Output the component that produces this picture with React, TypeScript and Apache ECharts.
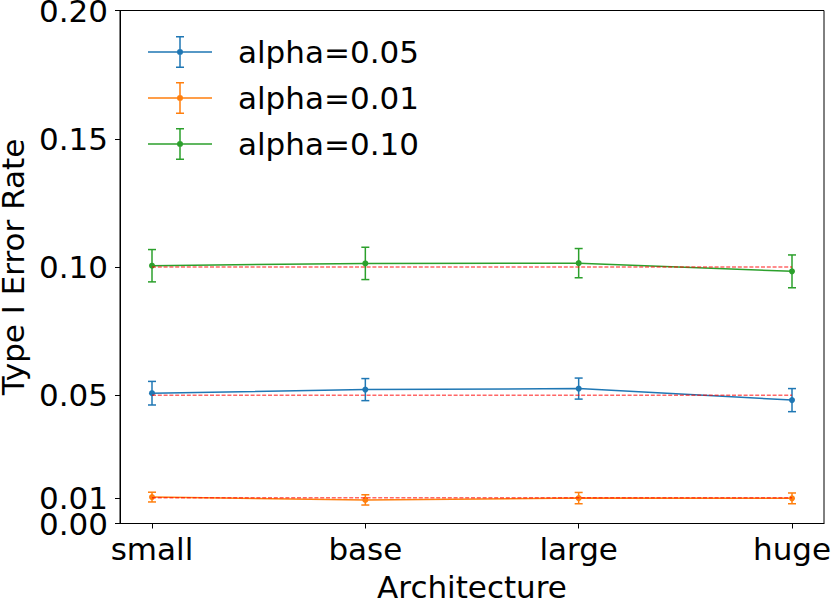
import React, { useEffect, useRef } from "react";
import * as echarts from "echarts";

const categories = ["small", "base", "large", "huge"];
const seriesNames = ["alpha=0.05", "alpha=0.01", "alpha=0.10"];
const alphaLevels = [0.05, 0.01, 0.1];
const rate005 = [0.0508, 0.0522, 0.0526, 0.0481];
const err005 = [0.0046, 0.0043, 0.0041, 0.0045];
const rate001 = [0.0103, 0.0092, 0.0099, 0.0098];
const err001 = [0.0019, 0.002, 0.0022, 0.0021];
const rate010 = [0.1005, 0.1014, 0.1015, 0.0983];
const err010 = [0.0063, 0.0063, 0.0057, 0.0064];
const yTicks = [0, 0.01, 0.05, 0.1, 0.15, 0.2];
const yMainLabels = [0, 0.05, 0.1, 0.15, 0.2];
const ySecondLabels = [0.01];
const xTicks = [0, 1, 2, 3];

const colors = ["#1f77b4", "#ff7f0e", "#2ca02c"];
const FONT = "DejaVu Sans";
const FS = 31;

const legendIcon =
  "path://M0 15.25H64V16.75H0Z M31.25 0H32.75V32H31.25Z M28 0H36V1.5H28Z M28 30.5H36V32H28Z M29 16A3 3 0 1 1 35 16A3 3 0 1 1 29 16Z";

export default function App() {
  const ref = useRef<HTMLDivElement>(null);
  useEffect(() => {
    if (!ref.current) return;
    const chart = echarts.init(ref.current, null, { renderer: "svg" });
    const rates = [rate005, rate001, rate010];
    const errs = [err005, err001, err010];

    const lineSeries: any[] = rates.map((r, i) => ({
      type: "line",
      name: seriesNames[i],
      data: r.map((v, j) => [xTicks[j], v]),
      symbol: "circle",
      symbolSize: 6,
      color: colors[i],
      lineStyle: { width: 1.5, color: colors[i] },
      itemStyle: { color: colors[i], borderWidth: 0 },
      z: 3,
    }));

    const errSeries: any[] = rates.map((r, i) => ({
      type: "custom",
      name: seriesNames[i],
      color: colors[i],
      data: r.map((v, j) => [xTicks[j], v - errs[i][j], v + errs[i][j]]),
      encode: { x: 0, y: [1, 2] },
      z: 2,
      renderItem: (params: any, api: any) => {
        const x = api.value(0);
        const pLo = api.coord([x, api.value(1)]);
        const pHi = api.coord([x, api.value(2)]);
        const style = { stroke: colors[i], lineWidth: 1.5 };
        return {
          type: "group",
          children: [
            { type: "line", shape: { x1: pLo[0], y1: pLo[1], x2: pHi[0], y2: pHi[1] }, style },
            { type: "line", shape: { x1: pLo[0] - 4, y1: pLo[1], x2: pLo[0] + 4, y2: pLo[1] }, style },
            { type: "line", shape: { x1: pHi[0] - 4, y1: pHi[1], x2: pHi[0] + 4, y2: pHi[1] }, style },
          ],
        };
      },
    }));

    const refSeries: any[] = alphaLevels.map((a) => ({
      type: "line",
      name: "ref" + a,
      data: [
        [xTicks[0], a],
        [xTicks[xTicks.length - 1], a],
      ],
      symbol: "none",
      lineStyle: { color: "rgba(255,0,0,0.6)", width: 1.5, type: [4, 1.8] },
      z: 4,
      silent: true,
    }));

    const yLabelBase = {
      formatter: (v: number) => v.toFixed(2),
      fontFamily: FONT,
      fontSize: FS,
      lineHeight: 18,
      color: "#000",
      margin: 12,
      hideOverlap: false,
      showMinLabel: true,
      showMaxLabel: true,
    };

    chart.setOption({
      animation: false,
      grid: {
        left: 120,
        right: 7,
        top: 10.5,
        bottom: 82.5,
        show: true,
        borderColor: "#000",
        borderWidth: 1,
        backgroundColor: "transparent",
        containLabel: false,
        outerBoundsMode: "none",
      },
      legend: {
        data: seriesNames,
        orient: "vertical",
        left: 148,
        top: 36,
        padding: 0,
        itemWidth: 64,
        itemHeight: 32,
        itemGap: 14,
        icon: legendIcon,
        itemStyle: { borderWidth: 0 },
        textStyle: { fontFamily: FONT, fontSize: FS, color: "#000", padding: [0, 0, 0, 21] },
      },
      xAxis: {
        type: "value",
        min: -0.15,
        max: 3.15,
        name: "Architecture",
        nameLocation: "middle",
        nameGap: 48,
        nameTextStyle: { fontFamily: FONT, fontSize: FS, color: "#000" },
        axisLine: { show: true, onZero: false, lineStyle: { color: "#000", width: 1 } },
        axisTick: { show: true, customValues: xTicks, length: 5, lineStyle: { color: "#000", width: 1 } },
        axisLabel: {
          customValues: xTicks,
          formatter: (v: number) => categories[Math.round(v)],
          fontFamily: FONT,
          fontSize: FS,
          color: "#000",
          margin: 10,
          hideOverlap: false,
        },
        splitLine: { show: false },
      },
      yAxis: [
        {
          type: "value",
          min: 0,
          max: 0.2,
          name: "Type I Error Rate",
          nameLocation: "middle",
          nameGap: 90,
          nameTextStyle: { fontFamily: FONT, fontSize: FS, color: "#000" },
          axisLine: { show: true, onZero: false, lineStyle: { color: "#000", width: 1 } },
          axisTick: { show: true, customValues: yTicks, length: 5, lineStyle: { color: "#000", width: 1 } },
          axisLabel: { ...yLabelBase, customValues: yMainLabels },
          splitLine: { show: false },
        },
        {
          type: "value",
          min: 0,
          max: 0.2,
          position: "left",
          offset: 0,
          axisLine: { show: false, onZero: false },
          axisTick: { show: false },
          axisLabel: { ...yLabelBase, customValues: ySecondLabels },
          splitLine: { show: false },
        },
      ],
      series: [...lineSeries, ...errSeries, ...refSeries],
    });
    return () => chart.dispose();
  }, []);
  return (
    <div
      ref={ref}
      style={{ position: "fixed", left: 0, top: 0, width: 831, height: 606, background: "#fff" }}
    />
  );
}
